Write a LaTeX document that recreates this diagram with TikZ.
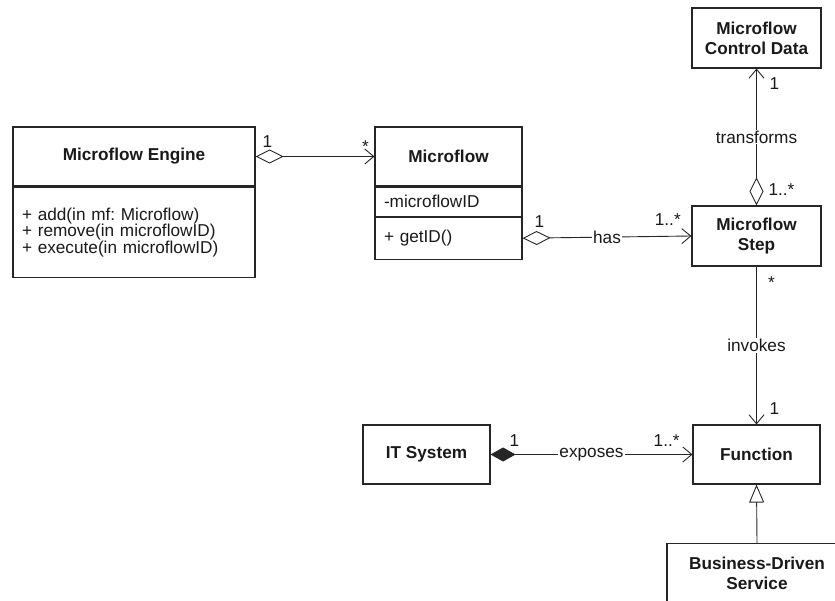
\documentclass[tikz,border=0pt]{standalone}
\usepackage{fontspec}
\setmainfont{Liberation Sans}
\frenchspacing
\usetikzlibrary{positioning,arrows.meta}
\tikzset{nameBox/.style={
    draw=black!85,
    line width=1.1pt,
    font=\fontsize{17.2}{20}\selectfont\bfseries,
    text=black!90,
    align=center,
    inner sep=0pt}
}
\tikzset{compBox/.style={
    draw=black!85,
    line width=1.1pt,
    font=\fontsize{17.2}{16.5}\selectfont,
    text=black!90,
    align=left,
    inner xsep=9pt,
    inner ysep=0pt}
}
\tikzset{assocStyle/.style={
    draw=black!85,
    line width=0.9pt,
    arrows={-Straight Barb[length=9pt,width=15pt]}}
}
\tikzset{aggrStyle/.style={
    assocStyle,
    arrows={Diamond[open,length=28pt,width=14pt]-Straight Barb[length=9pt,width=15pt]}}
}
\tikzset{compStyle/.style={
    assocStyle,
    arrows={Diamond[length=25pt,width=14pt]-Straight Barb[length=9pt,width=15pt]}}
}
\tikzset{genStyle/.style={
    draw=black!85,
    line width=0.9pt,
    arrows={-Triangle[open,length=18pt,width=15pt]}}
}
\tikzset{roleStyle/.style={
    font=\fontsize{17.2}{20}\selectfont,
    text=black!90,
    fill=white,
    inner sep=1pt}
}
\tikzset{multStyle/.style={
    font=\fontsize{17.2}{20}\selectfont,
    text=black!90,
    inner sep=0pt}
}

\begin{document}
\begin{tikzpicture}[x=1pt,y=-1pt]
      \useasboundingbox (0,0) rectangle (835,601);
      \clip (0,0) rectangle (835,601);

      % engine class
      \node[nameBox, minimum width=242pt, minimum height=59pt]
      (engine) at (134,156.5) {Microflow Engine};
      \node[compBox, text width=224pt, minimum height=90pt, below=0pt of engine]
      (engineops) {+ add(in mf: Microflow)\\+ remove(in microflowID)\\+ execute(in microflowID)};

      % microflow class
      \node[nameBox, minimum width=147pt, minimum height=59pt]
      (mf) at (448.5,156.5) {Microflow};
      \node[compBox, text width=129pt, minimum height=29pt, below=0pt of mf]
      (mfattr) {-microflowID};
      \node[compBox, text width=129pt, minimum height=42pt, below=0pt of mfattr]
      (mfops) {+ getID()};

      % other classes
      \node[nameBox, minimum width=129pt, minimum height=60pt]
      (ctrldata) at (756.5,38) {Microflow\\Control Data};
      \node[nameBox, minimum width=129pt, minimum height=60pt]
      (step) at (756.5,236) {Microflow\\Step};
      \node[nameBox, minimum width=127pt, minimum height=59pt]
      (func) at (756.5,454.5) {Function};
      \node[nameBox, minimum width=127pt, minimum height=59pt]
      (itsys) at (426.5,454.5) {IT System};
      \node[nameBox, minimum width=180pt, minimum height=60pt, anchor=north]
      (bds) at (757,543) {Business-Driven\\Service};

      % associations
      \draw[aggrStyle] (engine.east) --
      node[multStyle, pos=0.1, yshift=15pt] {1}
      node[multStyle, pos=0.925, yshift=10pt] {*}
      (mf.west);

      \draw[aggrStyle] (mfops.east) --
      node[roleStyle] {has}
      node[multStyle, pos=0.1, yshift=16pt] {1}
      node[multStyle, pos=0.86, yshift=17pt] {1..*}
      (step.west);

      \draw[aggrStyle] (step.north) --
      node[roleStyle] {transforms}
      node[multStyle, pos=0.116, xshift=25pt] {1..*}
      node[multStyle, pos=0.89, xshift=18pt] {1}
      (ctrldata.south);

      \draw[assocStyle] (step.south) --
      node[roleStyle] {invokes}
      node[multStyle, pos=0.1, xshift=15pt] {*}
      node[multStyle, pos=0.9, xshift=18pt] {1}
      (func.north);

      \draw[compStyle] (itsys.east) --
      node[roleStyle] {exposes}
      node[multStyle, pos=0.118, yshift=14pt] {1}
      node[multStyle, pos=0.872, yshift=14pt] {1..*}
      (func.west);

      \draw[genStyle] (bds.north) -- (func.south);
    \end{tikzpicture}
\end{document}
